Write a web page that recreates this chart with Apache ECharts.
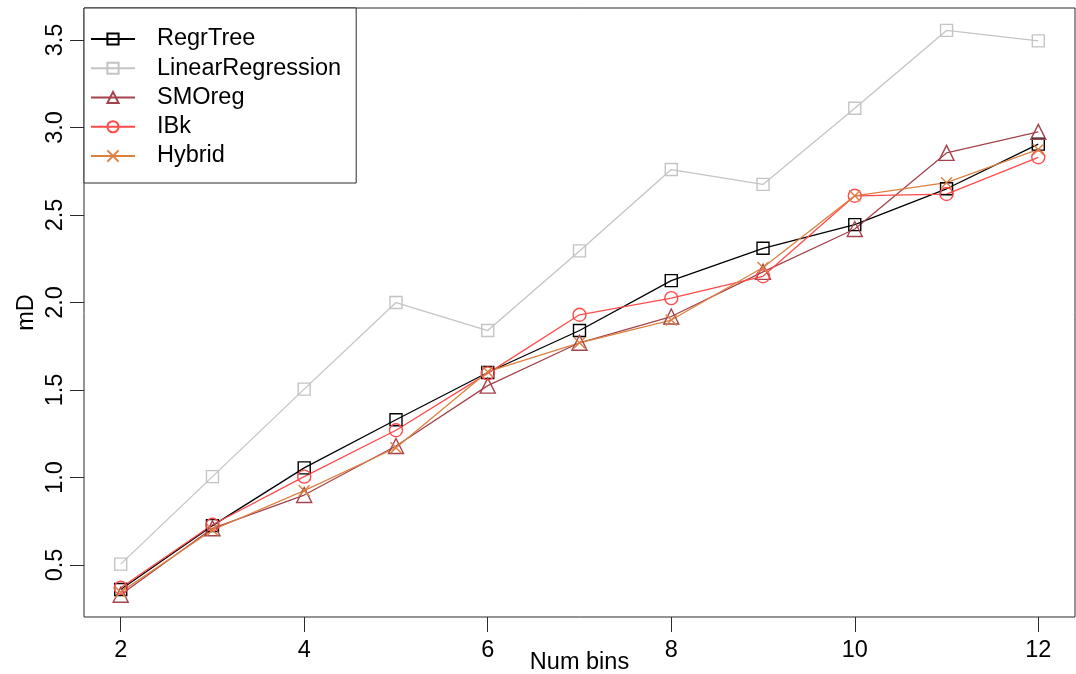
<!DOCTYPE html>
<html>
<head>
<meta charset="utf-8">
<script src="https://cdn.jsdelivr.net/npm/echarts@6/dist/echarts.min.js"></script>
<style>html,body{margin:0;padding:0;background:#fff;}#c{width:1076px;height:674px;}</style>
</head>
<body>
<div id="c"></div>
<script>
var numBins = [2, 3, 4, 5, 6, 7, 8, 9, 10, 11, 12];
var xTicks = [2, 4, 6, 8, 10, 12];
var yTicks = [0.5, 1.0, 1.5, 2.0, 2.5, 3.0, 3.5];
var regrTree = [0.36, 0.725, 1.055, 1.33, 1.60, 1.84, 2.125, 2.31, 2.445, 2.65, 2.905];
var linearRegression = [0.505, 1.005, 1.505, 2.00, 1.84, 2.295, 2.76, 2.675, 3.11, 3.555, 3.495];
var smoReg = [0.33, 0.71, 0.90, 1.18, 1.525, 1.77, 1.92, 2.175, 2.42, 2.855, 2.975];
var iBk = [0.37, 0.73, 1.005, 1.27, 1.595, 1.93, 2.025, 2.15, 2.61, 2.62, 2.83];
var hybrid = [0.345, 0.70, 0.925, 1.17, 1.605, 1.77, 1.90, 2.20, 2.61, 2.685, 2.875];

function pairs(ys) { return numBins.map(function (x, i) { return [x, ys[i]]; }); }

var FONT = 'Liberation Sans, Arial, sans-serif';
var FS = 23.5;
var xPath = 'path://M0,0L10,10M10,0L0,10';

function mk(name, ys, color, symbol, size) {
  return {
    name: name, type: 'line', data: pairs(ys), symbol: symbol, symbolSize: size,
    showAllSymbol: true,
    lineStyle: { color: color, width: 1.3 },
    itemStyle: { color: 'rgba(255,255,255,0)', borderColor: color, borderWidth: 1.4 },
    emphasis: { disabled: true }, animation: false
  };
}

var chart = echarts.init(document.getElementById('c'));
chart.setOption({
  animation: false,
  backgroundColor: '#fff',
  grid: { left: 84, right: 1, top: 8, bottom: 57, containLabel: false, outerBoundsMode: 'none',
    show: true, borderColor: '#2a2a2a', borderWidth: 1, backgroundColor: 'transparent' },
  legend: {
    orient: 'vertical', left: 84, top: 8,
    backgroundColor: '#fff', borderColor: '#2a2a2a', borderWidth: 1, borderRadius: 0,
    padding: [19, 15, 15, 6], itemGap: 5.25, itemWidth: 44, itemHeight: 14,
    textStyle: { fontFamily: FONT, fontSize: FS, color: '#000', padding: [0, 0, 0, 17] },
    data: ['RegrTree', 'LinearRegression', 'SMOreg', 'IBk', 'Hybrid']
  },
  xAxis: {
    type: 'value', min: 1.6, max: 12.4,
    name: 'Num bins', nameLocation: 'middle', nameGap: 34, nameMoveOverlap: false,
    nameTextStyle: { fontFamily: FONT, fontSize: FS, color: '#000' },
    axisLine: { show: false },
    axisTick: { show: true, inside: false, length: 15, customValues: xTicks, lineStyle: { color: '#2a2a2a' } },
    axisLabel: { show: true, customValues: xTicks, margin: 22, fontFamily: FONT, fontSize: FS, color: '#000' },
    splitLine: { show: false }
  },
  yAxis: {
    type: 'value', min: 0.203, max: 3.683,
    name: 'mD', nameLocation: 'middle', nameGap: 45, nameRotate: 90, nameMoveOverlap: false,
    nameTextStyle: { fontFamily: FONT, fontSize: FS, color: '#000' },
    axisLine: { show: false },
    axisTick: { show: true, inside: false, length: 14, customValues: yTicks, lineStyle: { color: '#2a2a2a' } },
    axisLabel: { show: true, customValues: yTicks, rotate: 90, margin: 16, fontFamily: FONT, fontSize: FS, color: '#000',
      formatter: function (v) { return v.toFixed(1); } },
    splitLine: { show: false }
  },
  series: [
    mk('RegrTree', regrTree, '#000000', 'rect', 12),
    mk('LinearRegression', linearRegression, '#c4c4c4', 'rect', 12),
    mk('SMOreg', smoReg, '#a3434b', 'triangle', 15),
    mk('IBk', iBk, '#ff4a4a', 'circle', 13),
    mk('Hybrid', hybrid, '#dc8040', xPath, 11)
  ]
});
</script>
</body>
</html>
